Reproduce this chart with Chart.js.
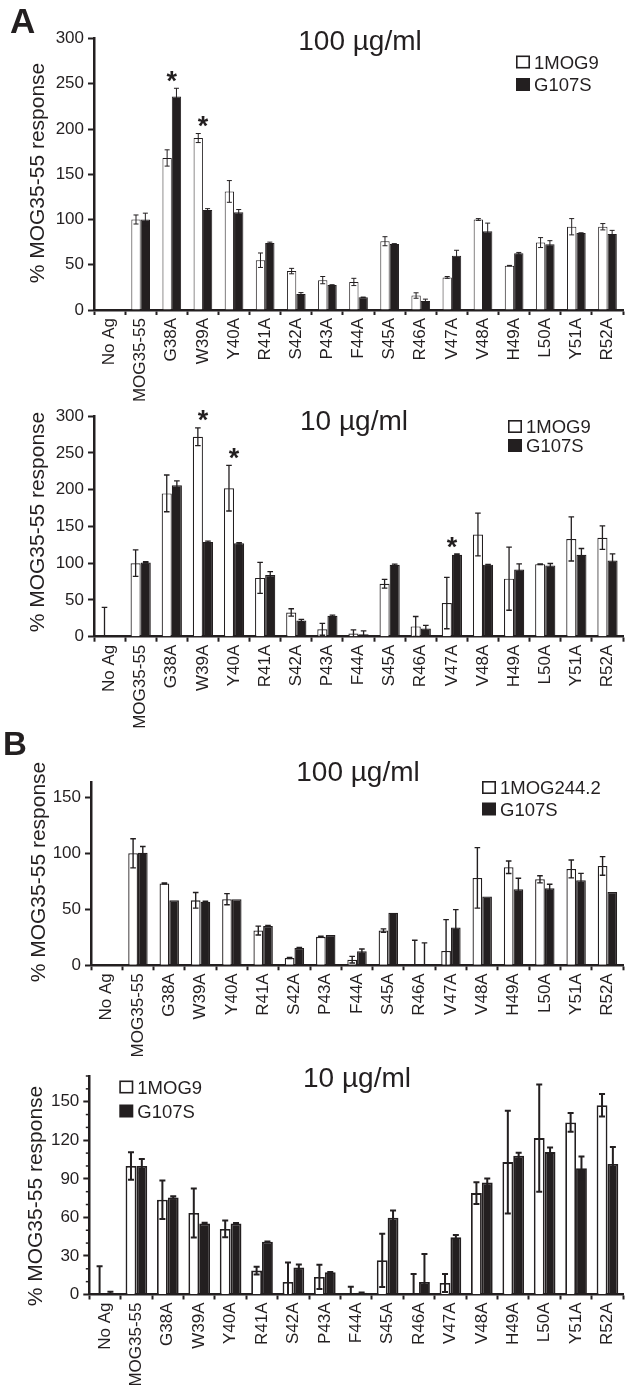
<!DOCTYPE html>
<html><head><meta charset="utf-8">
<script src="https://cdn.jsdelivr.net/npm/chart.js@4.4.1/dist/chart.umd.min.js"></script>
<style>
html,body{margin:0;padding:0;background:#fff;}
body{width:631px;height:1393px;position:relative;overflow:hidden;}
canvas{position:absolute;left:0;}
.lbl{position:absolute;font-family:"Liberation Sans",Arial,sans-serif;font-weight:bold;line-height:1;color:#231f20;}
</style></head><body>
<canvas id="c1" width="631" height="402" style="top:0px"></canvas>
<canvas id="c2" width="631" height="343" style="top:402px"></canvas>
<canvas id="c3" width="631" height="315" style="top:745px"></canvas>
<canvas id="c4" width="631" height="333" style="top:1060px"></canvas>
<div class="lbl" style="left:10px;top:3px;font-size:35px;">A</div>
<div class="lbl" style="left:3px;top:727px;font-size:33px;">B</div>
<script>
// ---------- data ----------
const categories = ['No Ag','MOG35-55','G38A','W39A','Y40A','R41A','S42A','P43A','F44A','S45A','R46A','V47A','V48A','H49A','L50A','Y51A','R52A'];

// Panel A, 100 µg/ml
const a100_1MOG9     = [0,100,168,190,131,55,43,33,31,76,16,36,100,49,74.5,92,92];
const a100_1MOG9Err  = [0,5,9,5,12,8,3,4,4,5,3,1,1,0.3,5.5,9,3.5];
const a100_G107S     = [0,100,236,110.5,108,74,17.7,27.6,14,73,10,60,87,62.6,72.6,85,84];
const a100_G107SErr  = [0,7,9,1.5,3,1,1.5,0.3,0.3,0.3,2,6,9,1,4,0.3,4];
const a100_sig       = ['G38A','W39A'];

// Panel A, 10 µg/ml
const a10_1MOG9      = [0,100,195,272,202,80,33,10,4.4,72,14,45.8,139,79,98.7,133,134.7];
const a10_1MOG9Err   = [40,18,25,12,31,21,5,8,5,6,13.5,35,29,43,0.5,30,16];
const a10_G107S      = [0.5,101,206,129,127,84,22,28.4,3.5,97.8,11,111.5,98,91.5,97,111.5,103.6];
const a10_G107SErr   = [1,1,6,1,1,4.5,1.5,1,4.5,1,4.5,1,0.5,7.5,2.6,8.5,9];
const a10_sig        = ['W39A','Y40A','V47A'];

// Panel B, 100 µg/ml
const b100_1MOG244   = [0,100,73,58,59,31,6.6,25.4,5,31,0,12.8,78,87.5,76.8,86,88.7];
const b100_1MOG244Err= [0,13,0.5,7,5,4,0.5,0.5,3,1.5,22.4,28,27,5.6,3.2,8,8.3];
const b100_G107S     = [0,100.5,58,56.7,59,35,15.5,27,12.5,47,1,33.7,61.5,67.9,68.7,75.9,65.4];
const b100_G107SErr  = [0,5.5,0,0.5,0,0.5,0.5,0,2,0,19,16,0,9.8,3.6,6.2,0];

// Panel B, 10 µg/ml
const b10_1MOG9      = [0,100,73.7,63.4,51,18.6,9.8,13.7,0,26.6,0,9,78.9,103,121.7,133.9,147.2];
const b10_1MOG9Err   = [22,10.7,15,19,6.5,3,15,9.5,6,20.7,16,7,8.5,40,41.7,7.3,8.7];
const b10_G107S      = [0.3,100,75.5,55.3,55.3,41,21,17.3,1.3,59.7,9.8,44.6,87.1,108,110.8,98.3,101.5];
const b10_G107SErr   = [1.8,5.5,1,0.5,0.3,0.3,2.3,0.3,0.3,5.7,21.7,1.7,3.2,2.3,3.6,9,13.2];

const yTitle = '% MOG35-55 response';
// ---------- drawing ----------
const FONT = '"Liberation Sans", Arial, sans-serif';
const INK = '#231f20';

function makePanel(cfg) {
  const top = cfg.canvasTop, H = cfg.canvasHeight, A = cfg.area;
  const extras = {
    id: 'extras',
    afterDatasetsDraw(chart) {
      const ctx = chart.ctx, ys = chart.scales.y, xs = chart.scales.x;
      ctx.save();
      ctx.strokeStyle = INK; ctx.lineWidth = cfg.errWidth;
      cfg.series.forEach((s, di) => {
        const meta = chart.getDatasetMeta(di);
        meta.data.forEach((bar, i) => {
          const e = s.err[i]; if (!e) return;
          const v = s.values[i];
          const yt = ys.getPixelForValue(v + e);
          const lo = v - e;
          const yb = ys.getPixelForValue(Math.max(0, lo));
          ctx.beginPath();
          ctx.moveTo(bar.x, yt); ctx.lineTo(bar.x, yb);
          ctx.moveTo(bar.x - cfg.cap, yt); ctx.lineTo(bar.x + cfg.cap, yt);
          if (lo > 0) { ctx.moveTo(bar.x - cfg.cap, yb); ctx.lineTo(bar.x + cfg.cap, yb); }
          ctx.stroke();
        });
      });
      // significance asterisks
      ctx.fillStyle = INK;
      ctx.font = 'bold 27px ' + FONT;
      ctx.textAlign = 'center'; ctx.textBaseline = 'alphabetic';
      (cfg.sig || []).forEach(name => {
        const i = categories.indexOf(name);
        const topVal = Math.max(...cfg.series.map(s => s.values[i] + s.err[i]));
        const cy = ys.getPixelForValue(topVal) - 14;
        ctx.fillText('*', xs.getPixelForValue(i), cy + 15.5);
      });
      // minor ticks
      if (cfg.minor) {
        ctx.lineWidth = 1.5;
        for (let v = cfg.minor; v <= cfg.max + 0.01; v += cfg.minor) {
          if (v % cfg.step === 0) continue;
          const py = ys.getPixelForValue(v);
          ctx.beginPath(); ctx.moveTo(chart.chartArea.left - 3.5, py); ctx.lineTo(chart.chartArea.left, py); ctx.stroke();
        }
      }
      ctx.restore();
    },
    afterDraw(chart) {
      const ctx = chart.ctx;
      ctx.save();
      ctx.fillStyle = INK;
      // title
      ctx.font = '28px ' + FONT;
      ctx.textAlign = 'center'; ctx.textBaseline = 'alphabetic';
      ctx.fillText(cfg.title, cfg.titleX, cfg.titleY - top);
      // y title
      ctx.save();
      ctx.translate(cfg.yTitleX, cfg.yTitleY - top);
      ctx.rotate(-Math.PI / 2);
      ctx.font = '21px ' + FONT;
      ctx.textBaseline = 'middle';
      ctx.fillText(yTitle, 0, 0);
      ctx.restore();
      // legend
      const L = cfg.legend;
      ctx.font = '18.5px ' + FONT;
      ctx.textAlign = 'left'; ctx.textBaseline = 'alphabetic';
      cfg.series.forEach((s, di) => {
        const cy = L.rows[di] - top;
        if (di === 0) {
          ctx.fillStyle = '#fff'; ctx.fillRect(L.x, cy - 6.5, 14, 13);
          ctx.strokeStyle = INK; ctx.lineWidth = 1.6; ctx.strokeRect(L.x + 0.8, cy - 5.7, 12.4, 11.4);
        } else {
          ctx.fillStyle = INK; ctx.fillRect(L.x, cy - 6.5, 14, 13);
        }
        ctx.fillStyle = INK;
        ctx.fillText(s.label, L.x + 18, cy + 6.5);
      });
      ctx.restore();
    }
  };

  new Chart(document.getElementById(cfg.id), {
    type: 'bar',
    data: {
      labels: categories,
      datasets: cfg.series.map((s, di) => ({
        label: s.label,
        data: s.values,
        backgroundColor: di === 0 ? '#ffffff' : INK,
        borderColor: INK,
        borderWidth: cfg.barBorder,
        barPercentage: 1,
        categoryPercentage: cfg.catPct
      }))
    },
    options: {
      responsive: false,
      animation: false,
      devicePixelRatio: 1,
      layout: { padding: { left: 0, right: 631 - A.right, top: A.top - top, bottom: 0 } },
      plugins: { legend: { display: false }, tooltip: { enabled: false }, title: { display: false } },
      scales: {
        x: {
          type: 'category',
          offset: true,
          grid: { display: true, offset: true, drawOnChartArea: false, drawTicks: true, tickLength: 5, tickWidth: 2, tickColor: INK },
          border: { display: true, color: INK, width: cfg.axisWidth },
          ticks: { autoSkip: false, minRotation: 90, maxRotation: 90, padding: 3, color: INK, font: { family: FONT, size: 17 } },
          afterFit(s) { s.height = (top + H) - A.bottom; }
        },
        y: {
          min: 0, max: cfg.max,
          grid: { display: true, drawOnChartArea: false, drawTicks: true, tickLength: 6, tickWidth: 2, tickColor: INK },
          border: { display: true, color: INK, width: cfg.axisWidth },
          ticks: { stepSize: cfg.step, includeBounds: false, padding: 4, color: INK, font: { family: FONT, size: 17 } },
          afterFit(s) { s.width = A.left; }
        }
      }
    },
    plugins: [extras]
  });
}

makePanel({
  id: 'c1', canvasTop: 0, canvasHeight: 402,
  area: { left: 94, right: 627, top: 38.5, bottom: 310 },
  max: 300, step: 50, catPct: 0.6, barBorder: 1, errWidth: 1, cap: 2.5, axisWidth: 2.5,
  title: '100 µg/ml', titleX: 360, titleY: 50,
  yTitleX: 38, yTitleY: 173,
  legend: { x: 516, rows: [62, 84.5] },
  sig: a100_sig,
  series: [
    { label: '1MOG9', values: a100_1MOG9, err: a100_1MOG9Err },
    { label: 'G107S', values: a100_G107S, err: a100_G107SErr }
  ]
});
makePanel({
  id: 'c2', canvasTop: 402, canvasHeight: 343,
  area: { left: 94, right: 627, top: 411.7, bottom: 636.7 },
  max: 300, step: 50, catPct: 0.65, barBorder: 1.2, errWidth: 1.3, cap: 2.8, axisWidth: 2.5,
  title: '10 µg/ml', titleX: 354, titleY: 430,
  yTitleX: 38, yTitleY: 522,
  legend: { x: 508, rows: [426.5, 445.5] },
  sig: a10_sig,
  series: [
    { label: '1MOG9', values: a10_1MOG9, err: a10_1MOG9Err },
    { label: 'G107S', values: a10_G107S, err: a10_G107SErr }
  ]
});
makePanel({
  id: 'c3', canvasTop: 745, canvasHeight: 315,
  area: { left: 91, right: 625, top: 782.7, bottom: 965.3 },
  max: 163, step: 50, catPct: 0.62, barBorder: 1.3, errWidth: 1.4, cap: 2.8, axisWidth: 2.5,
  title: '100 µg/ml', titleX: 358, titleY: 781,
  yTitleX: 39, yTitleY: 872,
  legend: { x: 482, rows: [787.5, 809] },
  sig: [],
  series: [
    { label: '1MOG244.2', values: b100_1MOG244, err: b100_1MOG244Err },
    { label: 'G107S', values: b100_G107S, err: b100_G107SErr }
  ]
});
makePanel({
  id: 'c4', canvasTop: 1060, canvasHeight: 333,
  area: { left: 89.3, right: 626, top: 1076, bottom: 1294.5 },
  max: 170, step: 30, minor: 10, catPct: 0.69, barBorder: 1.8, errWidth: 2, cap: 3, axisWidth: 2.5,
  title: '10 µg/ml', titleX: 357, titleY: 1087,
  yTitleX: 36, yTitleY: 1196,
  legend: { x: 119.3, rows: [1087, 1111] },
  sig: [],
  series: [
    { label: '1MOG9', values: b10_1MOG9, err: b10_1MOG9Err },
    { label: 'G107S', values: b10_G107S, err: b10_G107SErr }
  ]
});
</script>
</body></html>
